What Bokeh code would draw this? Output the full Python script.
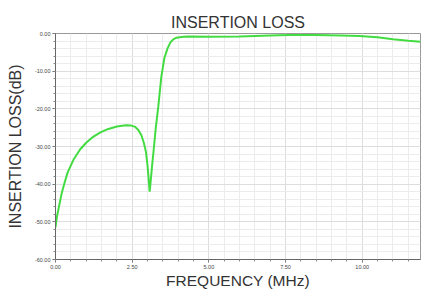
from bokeh.plotting import figure
from bokeh.models import Range1d, FixedTicker, PrintfTickFormatter
from bokeh.embed import file_html
from bokeh.resources import INLINE

freq = [0, 0.05, 0.1, 0.2, 0.3, 0.4, 0.6, 0.8, 1.0, 1.2, 1.45, 1.7, 2.0, 2.3, 2.45,
        2.6, 2.7, 2.8, 2.88, 2.95, 3.0, 3.04, 3.07, 3.1, 3.15, 3.2, 3.27, 3.35, 3.45,
        3.55, 3.65, 3.75, 3.85, 3.95, 4.1, 4.3, 5.0, 6.0, 7.0, 7.6, 8.5, 9.3, 9.9,
        10.5, 11.0, 11.5, 11.9]
loss = [-51.5, -48.5, -46.5, -42.5, -39.5, -36.8, -33.3, -30.8, -29.0, -27.6, -26.3,
        -25.4, -24.7, -24.35, -24.4, -24.8, -25.6, -27.0, -29.0, -31.5, -35.0, -39.0,
        -42.0, -39.5, -35.0, -31.0, -25.0, -19.5, -11.5, -6.5, -4.0, -2.3, -1.5, -1.1,
        -0.9, -0.8, -0.85, -0.8, -0.55, -0.4, -0.4, -0.5, -0.65, -1.0, -1.5, -1.9, -2.2]

x_ticks = [0, 2.5, 5.0, 7.5, 10.0]
y_ticks = [-60, -50, -40, -30, -20, -10, 0]

p = figure(width=421, height=291, output_backend="svg", toolbar_location=None,
           x_range=Range1d(0, 11.9), y_range=Range1d(-60, 0),
           title="INSERTION LOSS",
           min_border_left=55, min_border_right=1, min_border_top=33, min_border_bottom=27)

p.title.align = "center"
p.title.text_font = "Liberation Sans"
p.title.text_font_size = "16px"
p.title.text_font_style = "normal"
p.title.text_color = "#333333"
p.title.standoff = 5

p.line(freq, loss, line_color="#42dc42", line_width=2)

p.xaxis.ticker = FixedTicker(ticks=x_ticks, minor_ticks=[i * 0.5 for i in range(0, 24)])
p.yaxis.ticker = FixedTicker(ticks=y_ticks, minor_ticks=[-60 + 2 * i for i in range(0, 31)])
p.xaxis.formatter = PrintfTickFormatter(format="%.2f")
p.yaxis.formatter = PrintfTickFormatter(format="%.2f")

for ax in (p.xaxis, p.yaxis):
    ax.major_label_text_font_size = "5.5px"
    ax.major_label_text_color = "#444444"
    ax.major_label_text_font = "Liberation Sans"
    ax.axis_line_color = "#666666"
    ax.major_tick_line_color = "#666666"
    ax.minor_tick_line_color = "#888888"
    ax.major_tick_out = 3
    ax.major_tick_in = 0
    ax.minor_tick_out = 2
    ax.minor_tick_in = 0
    ax.major_label_standoff = 2
    ax.axis_label_text_font = "Liberation Sans"
    ax.axis_label_text_font_style = "normal"
    ax.axis_label_text_color = "#333333"

p.xaxis.axis_label = "FREQUENCY (MHz)"
p.xaxis.axis_label_text_font_size = "15.5px"
p.xaxis.axis_label_standoff = 0
p.yaxis.axis_label = "INSERTION LOSS(dB)"
p.yaxis.axis_label_text_font_size = "16px"
p.yaxis.axis_label_standoff = 8

p.xgrid.grid_line_color = "#dddddd"
p.ygrid.grid_line_color = "#dddddd"
p.xgrid.minor_grid_line_color = "#ececec"
p.ygrid.minor_grid_line_color = "#ececec"

p.outline_line_color = "#999999"
p.background_fill_color = "white"
p.border_fill_color = "white"

open("out.html", "w").write(file_html(p, INLINE))
